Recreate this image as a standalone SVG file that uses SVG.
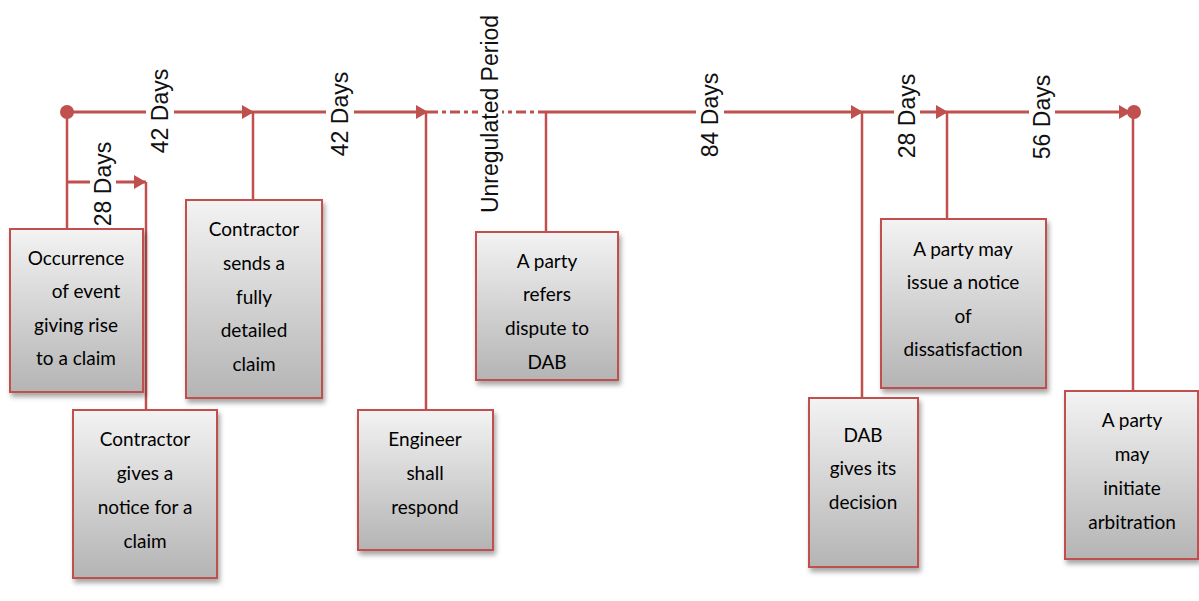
<svg xmlns="http://www.w3.org/2000/svg" width="1199" height="601" viewBox="0 0 1199 601">
  <defs>
    <linearGradient id="boxFill" x1="0" y1="0" x2="0" y2="1">
      <stop offset="0" stop-color="#f3f3f3"/>
      <stop offset="1" stop-color="#b4b4b4"/>
    </linearGradient>
    <filter id="shadow" x="-10%" y="-10%" width="130%" height="130%">
      <feDropShadow dx="2" dy="4" stdDeviation="2.5" flood-color="#000" flood-opacity="0.35"/>
    </filter>
    <marker id="arrow" viewBox="0 0 12 14" refX="12" refY="7" markerWidth="12" markerHeight="14" markerUnits="userSpaceOnUse" orient="auto">
      <path d="M0,0 L12,7 L0,14 Z" fill="#c0504d"/>
    </marker>
    <style>
      .line { stroke: #c0504d; stroke-width: 3; fill: none; }
      .drop { stroke: #c0504d; stroke-width: 2.5; fill: none; }
      .dash { stroke: #c0504d; stroke-width: 3; fill: none; stroke-dasharray: 10 4 4 4; }
      .box rect { fill: url(#boxFill); stroke: #c0504d; stroke-width: 2; filter: url(#shadow); }
      .box text { font-family: Lato, "Open Sans", "Liberation Sans", sans-serif; font-size: 19px; fill: #000; text-anchor: middle; dominant-baseline: central; }
      .period rect { fill: #fff; }
      .period text { font-family: "Liberation Sans", Arial, sans-serif; font-size: 23px; fill: #111; text-anchor: middle; dominant-baseline: central; }
    </style>
  </defs>

  <!-- timeline and drop lines -->
  <g id="connectors">
    <line class="drop" x1="67" y1="112" x2="67" y2="229"/>
    <line class="drop" x1="146" y1="182" x2="146" y2="410"/>
    <line class="drop" x1="253" y1="112" x2="253" y2="200"/>
    <line class="drop" x1="426" y1="112" x2="426" y2="410"/>
    <line class="drop" x1="546" y1="112" x2="546" y2="232"/>
    <line class="drop" x1="862" y1="112" x2="862" y2="398"/>
    <line class="drop" x1="947" y1="112" x2="947" y2="219"/>
    <line class="drop" x1="1133" y1="112" x2="1133" y2="391"/>

    <line class="line" x1="67" y1="182" x2="146" y2="182" marker-end="url(#arrow)"/>
    <line class="line" x1="67" y1="112" x2="254" y2="112" marker-end="url(#arrow)"/>
    <line class="line" x1="254" y1="112" x2="428" y2="112" marker-end="url(#arrow)"/>
    <line class="dash" x1="428" y1="112" x2="546" y2="112"/>
    <line class="line" x1="546" y1="112" x2="863" y2="112" marker-end="url(#arrow)"/>
    <line class="line" x1="863" y1="112" x2="948" y2="112" marker-end="url(#arrow)"/>
    <line class="line" x1="948" y1="112" x2="1131" y2="112" marker-end="url(#arrow)"/>
    <circle cx="67" cy="112" r="7" fill="#c0504d"/>
    <circle cx="1134" cy="112" r="7" fill="#c0504d"/>
  </g>

  <!-- period labels -->
  <g id="periods" class="period">
    <g transform="translate(103,184) rotate(-90)">
      <rect x="-40" y="-13" width="80" height="26"/>
      <text x="0" y="0">28 Days</text>
    </g>
    <g transform="translate(160,111) rotate(-90)">
      <rect x="-42" y="-14" width="84" height="28"/>
      <text x="0" y="0">42 Days</text>
    </g>
    <g transform="translate(340,114) rotate(-90)">
      <rect x="-42" y="-14" width="84" height="28"/>
      <text x="0" y="0">42 Days</text>
    </g>
    <g transform="translate(490,114) rotate(-90)">
      <rect x="-103" y="-12" width="206" height="24"/>
      <text x="0" y="0">Unregulated Period</text>
    </g>
    <g transform="translate(710,115) rotate(-90)">
      <rect x="-44" y="-14" width="88" height="28"/>
      <text x="0" y="0">84 Days</text>
    </g>
    <g transform="translate(907,116) rotate(-90)">
      <rect x="-42" y="-13" width="84" height="26"/>
      <text x="0" y="0">28 Days</text>
    </g>
    <g transform="translate(1042,117) rotate(-90)">
      <rect x="-42" y="-13" width="84" height="26"/>
      <text x="0" y="0">56 Days</text>
    </g>
  </g>

  <g id="event" class="box">
    <rect x="10" y="229" width="133" height="163"/>
    <text x="76" y="257">Occurrence</text>
    <text x="86" y="290">of event</text>
    <text x="76" y="324">giving rise</text>
    <text x="76" y="357">to a claim</text>
  </g>

  <g id="notice" class="box">
    <rect x="73" y="410" width="144" height="168"/>
    <text x="145" y="438">Contractor</text>
    <text x="145" y="472">gives a</text>
    <text x="145" y="506">notice for a</text>
    <text x="145" y="540">claim</text>
  </g>

  <g id="detailed-claim" class="box">
    <rect x="186" y="200" width="136" height="198"/>
    <text x="254" y="228">Contractor</text>
    <text x="254" y="262">sends a</text>
    <text x="254" y="296">fully</text>
    <text x="254" y="329">detailed</text>
    <text x="254" y="363">claim</text>
  </g>

  <g id="engineer" class="box">
    <rect x="358" y="410" width="135" height="140"/>
    <text x="425" y="438">Engineer</text>
    <text x="425" y="472">shall</text>
    <text x="425" y="506">respond</text>
  </g>

  <g id="refer-dab" class="box">
    <rect x="476" y="232" width="142" height="148"/>
    <text x="547" y="260">A party</text>
    <text x="547" y="293">refers</text>
    <text x="547" y="327">dispute to</text>
    <text x="547" y="361">DAB</text>
  </g>

  <g id="dab-decision" class="box">
    <rect x="809" y="398" width="109" height="169"/>
    <text x="863" y="434">DAB</text>
    <text x="863" y="467">gives its</text>
    <text x="863" y="501">decision</text>
  </g>

  <g id="dissatisfaction" class="box">
    <rect x="881" y="219" width="165" height="169"/>
    <text x="963" y="248">A party may</text>
    <text x="963" y="281">issue a notice</text>
    <text x="963" y="315">of</text>
    <text x="963" y="348">dissatisfaction</text>
  </g>

  <g id="arbitration" class="box">
    <rect x="1065" y="391" width="133" height="168"/>
    <text x="1132" y="419">A party</text>
    <text x="1132" y="453">may</text>
    <text x="1132" y="487">initiate</text>
    <text x="1132" y="521">arbitration</text>
  </g>
</svg>
